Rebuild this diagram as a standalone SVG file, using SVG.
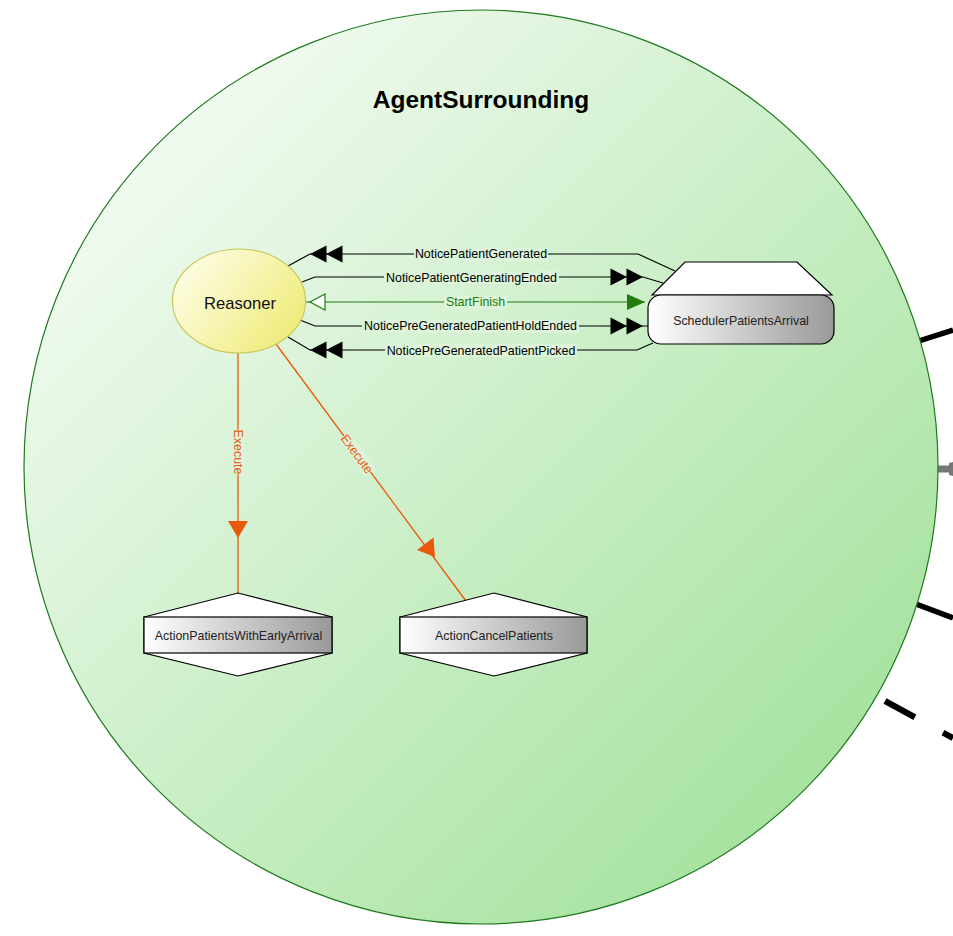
<svg xmlns="http://www.w3.org/2000/svg" width="953" height="936" viewBox="0 0 953 936">
<defs>
<linearGradient id="gCircle" x1="0" y1="0" x2="1" y2="1">
<stop offset="0" stop-color="#ffffff"/>
<stop offset="1" stop-color="#98de90"/>
</linearGradient>
<linearGradient id="gReason" x1="0" y1="0" x2="1" y2="0.6">
<stop offset="0" stop-color="#fffff2"/>
<stop offset="1" stop-color="#f0ec7e"/>
</linearGradient>
<linearGradient id="gGray" x1="0" y1="0" x2="1" y2="0">
<stop offset="0" stop-color="#ffffff"/>
<stop offset="1" stop-color="#999999"/>
</linearGradient>
<g id="dbl">
<polygon points="0,0 16.5,-8.5 16.5,8.5"/>
<polygon points="16,0 32.5,-8.5 32.5,8.5"/>
</g>
<style>
text{font-family:"Liberation Sans",Arial,sans-serif}
.lbl{font-size:12.4px;text-anchor:middle}
.bg{fill:#dcf4d9}
.blk{fill:none;stroke:#000;stroke-width:1.2}
.exe{fill:none;stroke:#e8590c;stroke-width:1.3}
.node{stroke:#000;stroke-width:1.2}
.ntxt{font-size:12.4px;text-anchor:middle;fill:#222}
</style>
</defs>
<rect width="953" height="936" fill="#ffffff"/>
<g id="outside">
<line x1="900" y1="347" x2="953" y2="330" stroke="#000" stroke-width="5.5"/>
<line x1="920" y1="469" x2="950" y2="469" stroke="#777" stroke-width="7"/>
<polygon points="949,463 953,462 953,476 949,475" fill="#777"/>
<line x1="900" y1="598" x2="953" y2="618" stroke="#000" stroke-width="5.5"/>
<line x1="885" y1="701" x2="953" y2="738" stroke="#000" stroke-width="6" stroke-dasharray="34 32"/>
</g>
<g id="AgentSurrounding">
<circle cx="481" cy="467" r="457" fill="url(#gCircle)" stroke="#1e7a1e" stroke-width="1.2"/>
<text x="481" y="108" font-size="24.5" font-weight="bold" text-anchor="middle" fill="#000">AgentSurrounding</text>
</g>
<g id="connectors">
<polyline class="blk" points="675,271 638,254 310,254 288,266"/>
<use href="#dbl" x="310" y="254"/>
<rect class="bg" x="414" y="248" width="134" height="13"/>
<text class="lbl" x="481" y="258">NoticePatientGenerated</text>

<polyline class="blk" points="302,282 315,277 643,277 663,283"/>
<use href="#dbl" transform="translate(643,277) scale(-1,1)"/>
<rect class="bg" x="384" y="271" width="175" height="13"/>
<text class="lbl" x="471.5" y="281.5">NoticePatientGeneratingEnded</text>

<line x1="305" y1="302" x2="645" y2="302" stroke="#227a10" stroke-width="1.2"/>
<polygon points="310,302 325,294 325,310" fill="#ffffff" stroke="#227a10" stroke-width="1.2"/>
<polygon points="645,302 627,294 627,310" fill="#227a10"/>
<rect class="bg" x="444" y="296" width="63" height="13"/>
<text class="lbl" x="475.5" y="306" fill="#227a10">StartFinish</text>

<polyline class="blk" points="300,320 315,326 648,326"/>
<use href="#dbl" transform="translate(643,326) scale(-1,1)"/>
<rect class="bg" x="362" y="320" width="217" height="13"/>
<text class="lbl" x="470.5" y="330">NoticePreGeneratedPatientHoldEnded</text>

<polyline class="blk" points="653,343 637,350 310,350 288,337"/>
<use href="#dbl" x="310" y="350"/>
<rect class="bg" x="385" y="344" width="192" height="13"/>
<text class="lbl" x="481" y="354.5">NoticePreGeneratedPatientPicked</text>

<line class="exe" x1="238" y1="353" x2="238" y2="593"/>
<polygon points="228,521 248,521 238,538" fill="#e8590c"/>
<g transform="translate(238,452) rotate(90)">
<rect class="bg" x="-22.5" y="-6.5" width="45" height="13"/>
<text class="lbl" x="0" y="4.3" fill="#e8590c">Execute</text>
</g>
<line class="exe" x1="273" y1="340" x2="466" y2="601"/>
<polygon points="435,557 417,550 433.5,537.5" fill="#e8590c"/>
<g transform="translate(357,454) rotate(53.4)">
<rect class="bg" x="-22.5" y="-6.5" width="45" height="13"/>
<text class="lbl" x="0" y="4.3" fill="#e8590c">Execute</text>
</g>
</g>
<g id="Reasoner">
<ellipse cx="239" cy="301" rx="66.5" ry="52" fill="url(#gReason)" stroke="#c9c85c" stroke-width="1.2"/>
<text x="240" y="308.5" font-size="16.6" text-anchor="middle" fill="#111">Reasoner</text>
</g>
<g id="SchedulerPatientsArrival">
<polygon class="node" points="652,295 685,262 797,262 832,295" fill="#ffffff"/>
<rect class="node" x="648" y="295" width="186" height="49" rx="13" ry="13" fill="url(#gGray)"/>
<text class="ntxt" x="741" y="324.5">SchedulerPatientsArrival</text>
</g>
<g id="ActionPatientsWithEarlyArrival">
<polygon class="node" points="144,617 238,593 332,617 332,653 238,676 144,653" fill="#ffffff"/>
<rect class="node" x="144" y="617" width="188" height="36" fill="url(#gGray)"/>
<text class="ntxt" x="238.5" y="640">ActionPatientsWithEarlyArrival</text>
</g>
<g id="ActionCancelPatients">
<polygon class="node" points="400,617 494,593 587,617 587,653 494,676 400,653" fill="#ffffff"/>
<rect class="node" x="400" y="617" width="187" height="36" fill="url(#gGray)"/>
<text class="ntxt" x="494" y="640">ActionCancelPatients</text>
</g>
</svg>
